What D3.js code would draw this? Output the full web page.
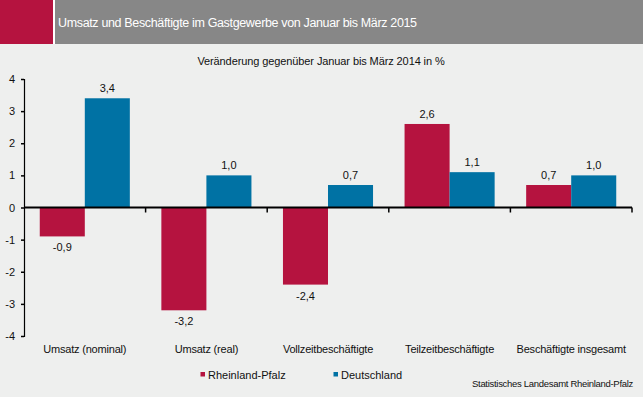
<!DOCTYPE html>
<html>
<head>
<meta charset="utf-8">
<script src="https://cdn.jsdelivr.net/npm/d3@7"></script>
<style>
  html, body { margin: 0; padding: 0; background: #eeefee; }
  svg { display: block; font-family: "Liberation Sans", Arial, sans-serif; }
</style>
</head>
<body>
<div id="chart"></div>
<script>
const categories = ['Umsatz (nominal)', 'Umsatz (real)', 'Vollzeitbeschäftigte', 'Teilzeitbeschäftigte', 'Beschäftigte insgesamt'];
const seriesNames = ['Rheinland-Pfalz', 'Deutschland'];
const rlp = [-0.9, -3.2, -2.4, 2.6, 0.7];
const de = [3.4, 1.0, 0.7, 1.1, 1.0];
const yTicks = [-4, -3, -2, -1, 0, 1, 2, 3, 4];
const colors = ['#b5133f', '#0072a4'];

const W = 643, H = 397;
const svg = d3.select('#chart').append('svg').attr('width', W).attr('height', H);

svg.append('rect').attr('width', W).attr('height', H).attr('fill', '#eeefee');

// header bar
svg.append('rect').attr('x', 0).attr('y', 0).attr('width', 53).attr('height', 44).attr('fill', '#b5133f');
svg.append('rect').attr('x', 55).attr('y', 0).attr('width', W - 55).attr('height', 44).attr('fill', '#878787');
svg.append('rect').attr('x', 53).attr('y', 0).attr('width', 2).attr('height', 44).attr('fill', '#fff');
svg.append('text')
  .attr('x', 58).attr('y', 27)
  .attr('fill', '#fff').attr('font-size', 12.5)
  .style('letter-spacing', '-0.35px')
  .text('Umsatz und Beschäftigte im Gastgewerbe von Januar bis März 2015');

svg.append('text')
  .attr('x', 321).attr('y', 65)
  .attr('text-anchor', 'middle').attr('font-size', 11).attr('fill', '#111')
  .style('letter-spacing', '-0.1px')
  .text('Veränderung gegenüber Januar bis März 2014 in %');

const plot = { left: 24, right: 632, top: 79, bottom: 336 };

const x0 = d3.scaleBand().domain(categories).range([plot.left, plot.right]).paddingInner(0).paddingOuter(0);
const x1 = d3.scaleBand().domain(seriesNames).range([0, x0.bandwidth()]).paddingOuter(0.35).paddingInner(0);
const y = d3.scaleLinear().domain([-4, 4]).range([plot.bottom, plot.top]);

const rows = categories.map((c, i) => ({ cat: c, values: [rlp[i], de[i]] }));

const groups = svg.selectAll('.grp').data(rows).enter().append('g')
  .attr('transform', d => `translate(${x0(d.cat)},0)`);

groups.selectAll('rect').data(d => d.values.map((v, j) => ({ v, s: seriesNames[j], j })))
  .enter().append('rect')
  .attr('x', d => x1(d.s))
  .attr('width', x1.bandwidth())
  .attr('y', d => y(Math.max(0, d.v)))
  .attr('height', d => Math.abs(y(d.v) - y(0)))
  .attr('fill', d => colors[d.j]);

groups.selectAll('text.val').data(d => d.values.map((v, j) => ({ v, s: seriesNames[j] })))
  .enter().append('text')
  .attr('class', 'val')
  .attr('x', d => x1(d.s) + x1.bandwidth() / 2)
  .attr('y', d => d.v >= 0 ? y(d.v) - 6 : y(d.v) + 15)
  .attr('text-anchor', 'middle').attr('font-size', 11).attr('fill', '#111')
  .text(d => d3.format('.1f')(d.v).replace('.', ',').replace('−', '-'));

// y axis
const yAxis = d3.axisLeft(y).tickValues(yTicks).tickSize(3).tickPadding(6)
  .tickFormat(d => d3.format('d')(d).replace('−', '-'));
const gy = svg.append('g').attr('transform', `translate(${plot.left},0)`).call(yAxis);
gy.select('.domain').attr('stroke', '#000').attr('stroke-width', 1.2);
gy.selectAll('.tick line').attr('stroke', '#000').attr('stroke-width', 1.5);
gy.selectAll('.tick text').attr('font-size', 11).attr('fill', '#111').attr('font-family', '"Liberation Sans", Arial, sans-serif');

// zero axis with category ticks
const gx = svg.append('g').attr('transform', `translate(0,${y(0)})`);
gx.append('line').attr('x1', plot.left).attr('x2', plot.right).attr('stroke', '#000').attr('stroke-width', 2);
gx.selectAll('line.sep').data(categories.slice(1).concat([null])).enter().append('line')
  .attr('x1', (d, i) => i < categories.length - 1 ? x0(d) : plot.right)
  .attr('x2', (d, i) => i < categories.length - 1 ? x0(d) : plot.right)
  .attr('y1', 0).attr('y2', 5).attr('stroke', '#000').attr('stroke-width', 1.5);

// category labels
svg.selectAll('text.cat').data(categories).enter().append('text')
  .attr('class', 'cat')
  .attr('x', d => x0(d) + x0.bandwidth() / 2)
  .attr('y', 353)
  .attr('text-anchor', 'middle').attr('font-size', 11).attr('fill', '#111')
  .style('letter-spacing', '-0.2px')
  .text(d => d);

// legend
const legendX = [200.5, 333.5];
const leg = svg.selectAll('g.leg').data(seriesNames).enter().append('g')
  .attr('transform', (d, i) => `translate(${legendX[i]},372)`);
leg.append('rect').attr('width', 4.5).attr('height', 4.5).attr('fill', (d, i) => colors[i]);
leg.append('text').attr('x', 7.5).attr('y', 6.5).attr('font-size', 11).attr('fill', '#111').text(d => d);

svg.append('text')
  .attr('x', 633).attr('y', 387)
  .attr('text-anchor', 'end').attr('font-size', 9.5).attr('fill', '#111')
  .style('letter-spacing', '-0.3px')
  .text('Statistisches Landesamt Rheinland-Pfalz');
</script>
</body>
</html>
